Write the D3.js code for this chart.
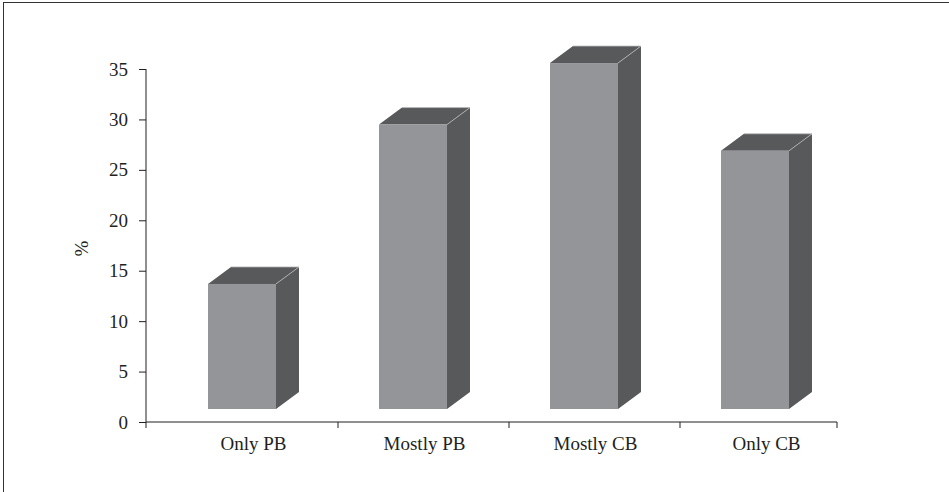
<!DOCTYPE html>
<html>
<head>
<meta charset="utf-8">
<script src="https://cdn.jsdelivr.net/npm/d3@7/dist/d3.min.js"></script>
<style>
  html, body { margin: 0; padding: 0; background: #fff; }
  svg { display: block; }
  text { font-family: "Liberation Serif", "DejaVu Serif", serif; fill: #231f20; }
</style>
</head>
<body>
<svg id="chart" width="949" height="492"></svg>
<script>
const categories = ["Only PB", "Mostly PB", "Mostly CB", "Only CB"];
const values = [12.4, 28.2, 34.3, 25.6];
const yTicks = [0, 5, 10, 15, 20, 25, 30, 35];
const yLabel = "%";

const W = 949, H = 492;
const svg = d3.select("#chart");

// frame
svg.append("rect")
  .attr("x", 3.5).attr("y", 2.5)
  .attr("width", 1000).attr("height", 1000)
  .attr("fill", "none").attr("stroke", "#333").attr("stroke-width", 1);

const axisX0 = 146, axisX1 = 837;
const y = d3.scaleLinear().domain([0, 35]).range([422, 69]);
const x = d3.scaleBand().domain(categories).range([167, 851]);

const floorOffset = 13;     // bars stand on a raised floor
const frontW = 68, depthX = 23, depthY = 17, frontInset = 41;

const colFront = "#939598", colDark = "#58595b", colEdge = "#b8b9bb";

const g = svg.append("g");

// bars
categories.forEach((c, i) => {
  const x0 = x(c) + frontInset;
  const x1 = x0 + frontW;
  const yb = y(0) - floorOffset;
  const yt = yb - (y(0) - y(values[i]));
  // side face
  g.append("path")
    .attr("d", `M${x1},${yt}L${x1 + depthX},${yt - depthY}L${x1 + depthX},${yb - depthY}L${x1},${yb}Z`)
    .attr("fill", colDark);
  // top face
  g.append("path")
    .attr("d", `M${x0},${yt}L${x0 + depthX},${yt - depthY}L${x1 + depthX},${yt - depthY}L${x1},${yt}Z`)
    .attr("fill", colDark);
  // front face
  g.append("rect")
    .attr("x", x0).attr("y", yt)
    .attr("width", frontW).attr("height", yb - yt)
    .attr("fill", colFront);
  // highlight edges
  g.append("path")
    .attr("d", `M${x1},${yt}L${x1 + depthX},${yt - depthY}M${x0 + depthX},${yt - depthY}L${x1 + depthX},${yt - depthY}`)
    .attr("stroke", colEdge).attr("stroke-width", 0.8).attr("fill", "none");
});

// y axis
const yAxis = d3.axisLeft(y).tickValues(yTicks).tickSize(7).tickPadding(11).tickFormat(d3.format("d"));
const ya = svg.append("g").attr("transform", `translate(${axisX0},0)`).call(yAxis);
ya.select(".domain").attr("d", `M0,${y(35)}V${y(0)}`).attr("stroke", "#231f20");
ya.selectAll(".tick line").attr("stroke", "#231f20");
ya.selectAll(".tick text")
  .style("font-family", '"Liberation Serif", "DejaVu Serif", serif')
  .style("font-size", "19px").attr("fill", "#231f20");

// x axis
const xa = svg.append("g");
xa.append("line")
  .attr("x1", axisX0).attr("x2", axisX1)
  .attr("y1", y(0)).attr("y2", y(0))
  .attr("stroke", "#231f20");
const tickXs = [axisX0].concat(categories.slice(1).map(c => x(c))).concat([axisX1]);
xa.selectAll("line.xt").data(tickXs).enter().append("line")
  .attr("class", "xt")
  .attr("x1", d => d).attr("x2", d => d)
  .attr("y1", y(0)).attr("y2", y(0) + 6)
  .attr("stroke", "#231f20");
xa.selectAll("text.xl").data(categories).enter().append("text")
  .attr("class", "xl")
  .attr("x", d => x(d) + x.bandwidth() / 2 + 1)
  .attr("y", 450)
  .attr("text-anchor", "middle")
  .style("font-size", "19px")
  .text(d => d);

// y label
svg.append("text")
  .attr("transform", `translate(88,${(y(0) + y(35)) / 2 + 3}) rotate(-90)`)
  .attr("text-anchor", "middle")
  .style("font-size", "19px")
  .text(yLabel);
</script>
</body>
</html>
